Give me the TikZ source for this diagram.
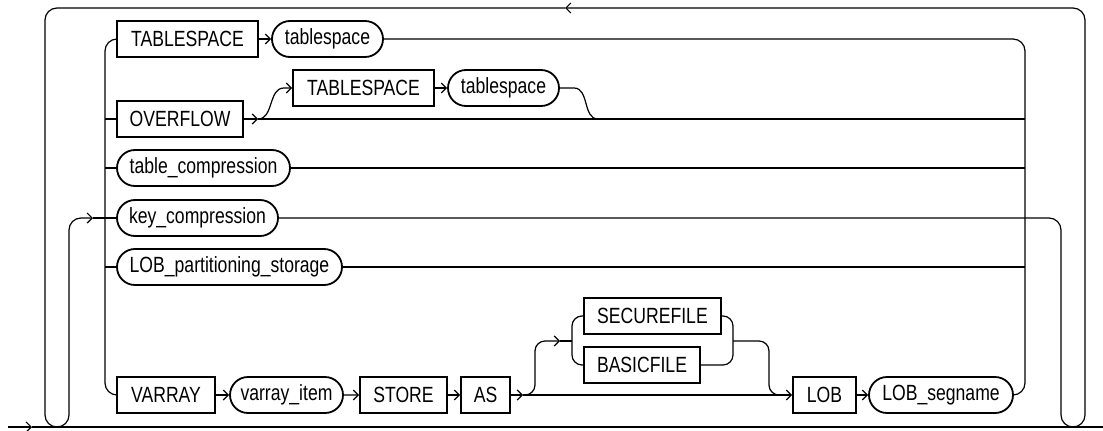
\documentclass[tikz,border=0pt]{standalone}
\usepackage{fontspec}
\newfontfamily\railfont[FakeStretch=0.8]{Liberation Sans}
\usepackage{tikz}
\usetikzlibrary{positioning,arrows.meta,shapes.misc,calc}

\begin{document}
\begin{tikzpicture}[x=1pt, y=-1pt, line width=1.2pt,
    >={Straight Barb[length=5pt,width=10pt]},
    kwbox/.style={draw, line width=1.8pt, rectangle, minimum height=36pt, inner sep=0pt, font=\railfont\fontsize{22}{26}\selectfont},
    ovalbox/.style={draw, line width=1.8pt, rounded rectangle, minimum height=36pt, inner sep=0pt, font=\railfont\fontsize{22}{26}\selectfont}]
    \useasboundingbox (0,0) rectangle (1103,431);

    % Rails and loop points
    \coordinate (railLtop) at (105,39);
    \coordinate (railLbot) at (105,395);
    \coordinate (railRtop) at (1025,39);
    \coordinate (railRbot) at (1025,395);
    \coordinate (mainIn) at (8,427);
    \coordinate (mainArrow) at (32,427);
    \coordinate (mainOut) at (1103,427);
    \coordinate (loopArrow) at (565,8);
    \coordinate (keyArrow) at (93,218);

    % Row 1: TABLESPACE tablespace
    \node[kwbox, minimum width=141pt] (kwTbs1) at (187.5,39) {TABLESPACE};
    \node[ovalbox, minimum width=111pt] (valTbs1) at (327.5,39) {tablespace};
    \draw[->] (kwTbs1) -- (valTbs1);

    % Row 2: OVERFLOW [TABLESPACE tablespace]
    \node[kwbox, minimum width=126pt] (kwOverflow) at (180,119) {OVERFLOW};
    \node[kwbox, minimum width=141pt] (kwTbs2) at (363.5,88) {TABLESPACE};
    \node[ovalbox, minimum width=111pt] (valTbs2) at (503.5,88) {tablespace};
    \coordinate (ovSplit) at (258,119);
    \draw[->] (kwOverflow) -- (ovSplit);
    \draw (ovSplit) -- (ovSplit -| railRtop);
    \draw[->] (ovSplit) to[out=0, in=180] (284,88) -- (kwTbs2);
    \draw[->] (kwTbs2) -- (valTbs2);
    \draw (valTbs2.east) -- (574,88) to[out=0, in=180] (598,119);

    % Row 3 to row 5
    \node[ovalbox, minimum width=173pt] (tableComp) at (203.5,168) {table\_compression};
    \node[ovalbox, minimum width=161pt] (keyComp) at (197.5,218) {key\_compression};
    \node[ovalbox, minimum width=225pt] (lobPart) at (229.5,267) {LOB\_partitioning\_storage};

    % Row 6: VARRAY varray_item STORE AS [SECUREFILE|BASICFILE] LOB LOB_segname
    \node[kwbox, minimum width=98pt] (kwVarray) at (166,395) {VARRAY};
    \node[ovalbox, minimum width=113pt] (varrayItem) at (286.5,395) {varray\_item};
    \node[kwbox, minimum width=87pt] (kwStore) at (403.5,395) {STORE};
    \node[kwbox, minimum width=49pt] (kwAs) at (485.5,395) {AS};
    \node[kwbox, minimum width=137pt] (kwSecure) at (652.5,316) {SECUREFILE};
    \node[kwbox, minimum width=116pt] (kwBasic) at (642,365) {BASICFILE};
    \node[kwbox, minimum width=63pt] (kwLob) at (824.5,395) {LOB};
    \node[ovalbox, minimum width=144pt] (lobSeg) at (941,395) {LOB\_segname};
    \coordinate (asSplit) at (523,395);
    \coordinate (fileIn) at (572,341);
    \coordinate (fileArrow) at (560,341);
    \coordinate (fileOut) at (733,341);
    \draw[->] (kwVarray) -- (varrayItem);
    \draw[->] (varrayItem) -- (kwStore);
    \draw[->] (kwStore) -- (kwAs);
    \draw[->] (kwAs) -- (asSplit);
    \draw[->] (asSplit) -- (kwLob);
    \draw[->] (kwLob) -- (lobSeg);
    \draw[->, rounded corners=10] (asSplit) -| (535,360) |- (fileArrow);
    \draw (fileArrow) -- (fileIn);
    \draw[rounded corners=10] (kwSecure.west) -| (fileIn) |- (kwBasic.west);
    \draw[rounded corners=10] (kwSecure.east) -| (fileOut) |- (kwBasic.east);
    \draw[rounded corners=10] (fileOut) -- (769,341) -- (769,395) -- (790,395);

    % Left and right rails
    \draw[rounded corners=12] (kwTbs1.west) -- (railLtop) -- (railLbot) -- (kwVarray.west);
    \draw (kwOverflow.west) -- (kwOverflow.west -| railLtop);
    \draw (tableComp.west) -- (tableComp.west -| railLtop);
    \draw (lobPart.west) -- (lobPart.west -| railLtop);
    \draw[rounded corners=12] (valTbs1.east) -- (railRtop) -- (railRbot) -- (lobSeg.east);
    \draw (tableComp.east) -- (tableComp.east -| railRtop);
    \draw (lobPart.east) -- (lobPart.east -| railRtop);

    % Main line and repeat loop
    \draw[->] (mainIn) -- (mainArrow);
    \draw (mainArrow) -- (mainOut);
    \draw[->, rounded corners=12] (keyComp.east) -- (1061,218) -- (1061,427) -- (1085,427) -- (1085,8) -- (loopArrow);
    \draw[->, rounded corners=12] (loopArrow) -- (45,8) -- (45,427) -- (69,427) -- (69,218) -- (keyArrow);
    \draw (keyArrow) -- (keyComp.west);
\end{tikzpicture}
\end{document}
